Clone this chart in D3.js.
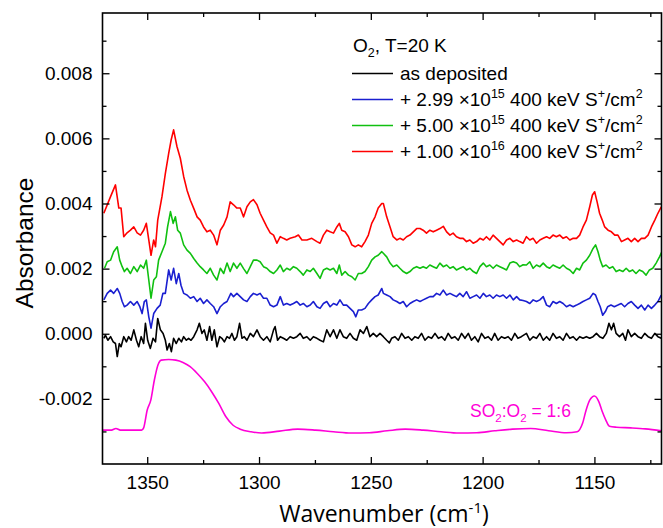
<!DOCTYPE html>
<html>
<head>
<meta charset="utf-8">
<script src="https://cdn.jsdelivr.net/npm/d3@7"></script>
<style>
  body { margin: 0; background: #fff; }
  text { font-family: "Liberation Sans", Arial, sans-serif; }
</style>
</head>
<body>
<div id="chart"></div>
<script>
// tick values
const xTicks = [1350, 1300, 1250, 1200, 1150];
const xMinor = [1325, 1275, 1225, 1175, 1125];
const yTicks = [-0.002, 0, 0.002, 0.004, 0.006, 0.008];
const yMinor = [-0.003, -0.001, 0.001, 0.003, 0.005, 0.007, 0.009];

// spectra: [wavenumber, absorbance]
const asDeposited = [
  [1369.4,-.00014],[1368.7,-.00004],[1367.6,-.00020],[1366.4,-.00009],[1365.2,-.00025],[1364.2,-.00030],[1363.4,-.00070],[1362.5,-.00030],[1361.7,-.00040],[1360.5,-.00009],[1359.3,-.00025],[1358.3,-.00009],[1357.2,-.00020],[1356.0,.00012],[1354.8,-.00020],[1353.8,-.00040],[1352.7,-.00009],[1351.6,-.00030],[1350.8,.00032],[1349.8,-.00020],[1348.6,-.00045],[1347.4,-.00014],[1346.3,-.00025],[1345.3,.00047],[1344.1,.00012],[1342.9,.00001],[1341.9,-.00020],[1341.1,-.00050],[1340.1,-.00030],[1339.2,-.00055],[1338.2,-.00014],[1337.0,-.00030],[1335.9,-.00014],[1334.7,-.00025],[1333.7,-.00009],[1332.5,-.00020],[1331.5,-.00014],[1330.4,-.00020],[1329.2,-.00009],[1327.7,.00012],[1326.7,.00032],[1325.5,.00001],[1324.5,.00012],[1323.3,-.00020],[1322.1,.00022],[1321.1,-.00020],[1320.0,.00012],[1318.8,-.00040],[1317.6,-.00009],[1316.6,-.00014],[1315.5,-.00025],[1314.3,-.00009],[1313.2,-.00014],[1312.1,.00001],[1311.0,-.00020],[1309.9,-.00009],[1308.7,.00032],[1307.6,-.00014],[1306.6,-.00009],[1305.4,-.00020],[1303.9,.00001],[1302.5,-.00009],[1300.9,.00012],[1299.5,-.00009],[1298.0,-.00020],[1296.5,-.00009],[1295.0,-.00025],[1293.5,.00012],[1292.8,.00022],[1291.7,-.00020],[1290.5,-.00009],[1289.1,-.00014],[1287.6,-.00020],[1286.1,-.00009],[1284.6,-.00014],[1283.1,-.00009],[1281.6,.00001],[1280.2,-.00014],[1278.6,-.00009],[1277.1,-.00020],[1275.7,-.00009],[1274.1,-.00014],[1272.7,-.00020],[1271.2,-.00025],[1269.7,.00012],[1268.2,-.00009],[1266.7,.00012],[1265.2,-.00014],[1263.8,.00012],[1262.3,-.00009],[1260.8,-.00014],[1259.3,.00001],[1257.8,-.00014],[1256.3,-.00020],[1254.8,.00012],[1253.3,.00001],[1251.8,.00022],[1250.4,-.00009],[1248.9,.00001],[1247.4,-.00009],[1245.9,.00001],[1244.4,-.00009],[1242.9,-.00020],[1241.7,-.00028],[1240.7,-.00014],[1239.2,-.00009],[1237.7,-.00020],[1236.2,.00001],[1234.7,-.00014],[1233.2,-.00009],[1231.7,-.00020],[1230.3,-.00009],[1228.8,-.00014],[1227.3,.00001],[1225.8,-.00020],[1224.3,-.00009],[1222.8,-.00014],[1221.3,.00001],[1219.8,-.00014],[1218.3,-.00009],[1216.9,-.00020],[1215.4,.00001],[1213.9,-.00014],[1212.4,-.00009],[1210.9,-.00020],[1209.4,.00001],[1207.9,-.00014],[1206.4,.00001],[1205.0,-.00020],[1203.5,-.00009],[1202.0,-.00025],[1200.5,.00001],[1199.0,-.00014],[1197.5,-.00009],[1196.0,-.00020],[1194.6,.00001],[1193.1,-.00020],[1191.6,-.00009],[1190.1,-.00014],[1188.6,-.00009],[1187.1,-.00020],[1185.6,.00001],[1184.2,-.00014],[1182.7,-.00009],[1180.4,.00001],[1178.9,-.00020],[1177.4,-.00009],[1175.9,-.00014],[1174.4,.00001],[1172.9,-.00020],[1171.4,-.00009],[1170.0,-.00020],[1168.5,.00001],[1167.0,-.00014],[1165.5,-.00009],[1164.0,-.00020],[1162.5,.00001],[1161.0,-.00014],[1159.5,-.00009],[1158.0,-.00020],[1156.6,-.00009],[1155.1,-.00014],[1153.6,-.00009],[1152.1,-.00014],[1150.6,-.00009],[1149.1,.00001],[1147.7,-.00009],[1146.2,-.00014],[1144.7,.00001],[1143.5,.00032],[1142.4,.00012],[1141.4,.00032],[1140.3,.00001],[1138.8,-.00009],[1137.3,.00001],[1136.1,-.00020],[1135.0,.00012],[1133.5,-.00009],[1132.0,.00001],[1130.5,-.00009],[1129.0,-.00014],[1127.5,.00001],[1126.0,-.00009],[1124.5,-.00014],[1123.0,.00001],[1121.6,-.00009],[1120.1,-.00014]
];

const dose299e15 = [
  [1369.4,.00104],[1367.9,.00124],[1366.4,.00134],[1365.0,.00124],[1363.4,.00139],[1362.3,.00124],[1361.2,.00099],[1360.2,.00083],[1359.0,.00088],[1357.5,.00099],[1356.0,.00088],[1354.5,.00099],[1353.3,.00083],[1352.3,.00062],[1351.3,.00099],[1350.4,.00104],[1349.3,.00052],[1348.3,.00017],[1347.1,.00062],[1345.6,.00078],[1344.2,.00088],[1343.0,.00124],[1341.9,.00124],[1340.4,.00196],[1339.3,.00165],[1338.2,.00201],[1337.0,.00154],[1335.9,.00185],[1334.9,.00149],[1333.7,.00124],[1332.2,.00119],[1330.7,.00109],[1329.2,.00114],[1327.7,.00099],[1326.3,.00109],[1324.8,.00093],[1323.3,.00104],[1321.8,.00093],[1320.3,.00083],[1318.8,.00062],[1317.3,.00083],[1315.8,.00093],[1314.3,.00099],[1312.6,.00124],[1311.4,.00114],[1309.9,.00124],[1308.4,.00114],[1306.9,.00104],[1305.4,.00099],[1303.9,.00114],[1302.5,.00124],[1300.9,.00119],[1299.5,.00124],[1298.0,.00109],[1296.5,.00109],[1295.0,.00088],[1293.5,.00083],[1292.0,.00088],[1290.5,.00114],[1289.1,.00088],[1287.6,.00093],[1286.1,.00088],[1284.6,.00093],[1283.1,.00099],[1281.6,.00088],[1280.2,.00093],[1278.6,.00083],[1277.1,.00088],[1275.7,.00099],[1274.1,.00083],[1272.7,.00078],[1271.2,.00093],[1269.7,.00099],[1268.2,.00083],[1266.7,.00093],[1265.2,.00088],[1263.8,.00104],[1262.3,.00088],[1260.8,.00088],[1259.3,.00078],[1257.8,.00068],[1256.7,.00052],[1255.6,.00073],[1254.1,.00073],[1252.6,.00078],[1251.1,.00093],[1249.6,.00104],[1248.1,.00114],[1246.7,.00119],[1245.1,.00139],[1244.4,.00124],[1242.9,.00119],[1241.4,.00114],[1240.0,.00104],[1238.4,.00099],[1237.0,.00093],[1235.5,.00099],[1234.0,.00083],[1232.5,.00093],[1231.0,.00099],[1229.5,.00104],[1228.0,.00099],[1226.6,.00104],[1225.1,.00109],[1223.6,.00114],[1222.1,.00114],[1220.6,.00124],[1219.1,.00119],[1217.6,.00134],[1216.1,.00119],[1214.6,.00124],[1213.2,.00119],[1211.7,.00114],[1210.2,.00124],[1208.7,.00114],[1207.2,.00129],[1205.7,.00109],[1204.2,.00114],[1202.7,.00119],[1201.2,.00109],[1199.7,.00124],[1198.3,.00114],[1196.8,.00119],[1195.3,.00109],[1193.8,.00119],[1192.3,.00114],[1190.8,.00119],[1189.3,.00109],[1187.8,.00119],[1186.3,.00104],[1184.8,.00114],[1183.4,.00104],[1181.9,.00102],[1180.4,.00099],[1178.9,.00093],[1177.4,.00104],[1175.9,.00099],[1174.4,.00104],[1172.9,.00114],[1171.4,.00088],[1170.0,.00083],[1168.5,.00099],[1167.0,.00093],[1165.5,.00099],[1164.0,.00093],[1162.5,.00083],[1161.0,.00088],[1159.5,.00083],[1158.0,.00088],[1156.6,.00093],[1155.1,.00099],[1153.6,.00104],[1152.1,.00109],[1150.6,.00124],[1149.5,.00119],[1148.4,.00099],[1147.4,.00083],[1146.3,.00057],[1145.1,.00068],[1144.1,.00083],[1142.6,.00088],[1141.1,.00083],[1139.5,.00088],[1138.0,.00093],[1136.5,.00083],[1135.0,.00093],[1133.5,.00099],[1132.0,.00088],[1130.5,.00078],[1129.0,.00088],[1127.5,.00073],[1126.0,.00088],[1124.5,.00078],[1123.0,.00088],[1121.6,.00099],[1120.1,.00119]
];

const dose500e15 = [
  [1369.1,.00201],[1367.9,.00221],[1366.4,.00226],[1365.0,.00252],[1363.4,.00267],[1362.3,.00226],[1361.2,.00206],[1360.2,.00191],[1359.0,.00201],[1357.5,.00185],[1356.0,.00206],[1354.5,.00191],[1353.0,.00211],[1351.6,.00201],[1350.4,.00226],[1349.3,.00165],[1348.3,.00109],[1347.1,.00165],[1345.9,.00175],[1344.9,.00226],[1343.4,.00252],[1341.9,.00278],[1340.9,.00328],[1339.6,.00375],[1338.4,.00339],[1337.4,.00359],[1336.4,.00318],[1335.2,.00309],[1333.7,.00273],[1332.2,.00257],[1330.7,.00247],[1329.2,.00231],[1327.7,.00217],[1326.3,.00206],[1324.8,.00196],[1323.3,.00185],[1321.8,.00201],[1320.3,.00180],[1318.8,.00165],[1317.3,.00201],[1315.8,.00185],[1314.3,.00217],[1312.9,.00191],[1311.4,.00217],[1309.9,.00201],[1308.4,.00217],[1306.9,.00200],[1305.4,.00185],[1303.9,.00206],[1302.5,.00226],[1300.9,.00226],[1299.5,.00221],[1298.0,.00206],[1296.5,.00201],[1295.0,.00191],[1293.5,.00185],[1292.0,.00196],[1290.5,.00211],[1289.1,.00191],[1287.6,.00201],[1286.1,.00196],[1284.6,.00206],[1283.1,.00201],[1281.6,.00191],[1280.2,.00180],[1278.6,.00196],[1277.1,.00191],[1275.7,.00201],[1274.1,.00185],[1272.7,.00170],[1271.2,.00196],[1269.7,.00201],[1268.2,.00196],[1266.7,.00201],[1265.2,.00185],[1264.1,.00211],[1263.0,.00180],[1261.5,.00191],[1260.0,.00180],[1258.5,.00175],[1257.0,.00165],[1255.6,.00185],[1254.1,.00185],[1252.6,.00191],[1251.1,.00206],[1249.6,.00226],[1248.1,.00236],[1246.7,.00241],[1245.1,.00252],[1244.4,.00247],[1242.9,.00236],[1241.4,.00217],[1240.0,.00206],[1238.4,.00211],[1237.0,.00201],[1235.5,.00191],[1234.0,.00185],[1232.5,.00191],[1231.0,.00201],[1229.5,.00206],[1228.0,.00201],[1226.6,.00206],[1225.1,.00201],[1223.6,.00211],[1222.1,.00206],[1220.6,.00201],[1219.1,.00217],[1217.6,.00206],[1216.1,.00211],[1214.6,.00201],[1213.2,.00206],[1211.7,.00196],[1210.2,.00201],[1208.7,.00206],[1207.2,.00196],[1205.7,.00201],[1204.2,.00191],[1202.7,.00185],[1201.2,.00206],[1199.7,.00217],[1198.3,.00206],[1196.8,.00211],[1195.3,.00201],[1193.8,.00211],[1192.3,.00206],[1190.8,.00201],[1189.3,.00196],[1187.8,.00217],[1186.3,.00221],[1184.8,.00217],[1183.4,.00206],[1181.9,.00212],[1180.4,.00211],[1178.9,.00221],[1177.4,.00201],[1175.9,.00211],[1174.4,.00206],[1172.9,.00217],[1171.4,.00206],[1170.0,.00201],[1168.5,.00211],[1167.0,.00206],[1165.5,.00201],[1164.0,.00211],[1162.5,.00201],[1161.0,.00196],[1159.5,.00185],[1158.0,.00201],[1156.6,.00196],[1155.1,.00217],[1153.6,.00226],[1152.1,.00241],[1150.6,.00262],[1149.5,.00273],[1148.4,.00252],[1147.4,.00226],[1146.3,.00206],[1144.8,.00211],[1143.3,.00201],[1141.8,.00206],[1140.3,.00191],[1138.8,.00196],[1137.3,.00191],[1135.8,.00201],[1134.3,.00191],[1132.9,.00196],[1131.4,.00185],[1129.9,.00196],[1128.4,.00191],[1126.9,.00180],[1125.4,.00196],[1123.9,.00201],[1122.4,.00217],[1120.9,.00236],[1119.8,.00252]
];

const dose100e16 = [
  [1369.4,.00370],[1366.4,.00421],[1364.2,.00457],[1362.7,.00386],[1361.7,.00386],[1360.5,.00298],[1359.0,.00310],[1357.5,.00318],[1356.0,.00328],[1354.5,.00310],[1353.0,.00303],[1351.6,.00318],[1350.4,.00339],[1349.3,.00288],[1348.3,.00241],[1347.1,.00288],[1346.3,.00267],[1345.3,.00349],[1343.4,.00421],[1341.9,.00492],[1340.4,.00554],[1339.3,.00595],[1338.2,.00626],[1336.7,.00575],[1335.2,.00539],[1333.7,.00483],[1332.2,.00441],[1330.7,.00410],[1329.2,.00385],[1327.7,.00359],[1326.3,.00349],[1324.8,.00328],[1323.3,.00313],[1321.8,.00318],[1320.3,.00303],[1318.8,.00273],[1317.3,.00318],[1315.8,.00334],[1314.3,.00359],[1312.9,.00405],[1311.4,.00396],[1309.9,.00386],[1308.4,.00386],[1306.9,.00359],[1305.4,.00390],[1303.9,.00405],[1302.5,.00412],[1300.9,.00396],[1299.5,.00370],[1298.0,.00349],[1296.5,.00328],[1295.0,.00310],[1293.5,.00303],[1292.0,.00278],[1290.5,.00298],[1289.1,.00293],[1287.6,.00288],[1286.1,.00293],[1283.8,.00298],[1282.4,.00303],[1280.8,.00288],[1278.6,.00288],[1276.4,.00293],[1274.1,.00283],[1272.7,.00278],[1271.2,.00303],[1269.7,.00318],[1268.2,.00313],[1266.7,.00309],[1265.2,.00328],[1264.1,.00339],[1263.0,.00318],[1261.5,.00313],[1260.0,.00298],[1258.5,.00273],[1257.0,.00267],[1255.6,.00273],[1254.1,.00267],[1252.6,.00283],[1251.1,.00303],[1249.6,.00339],[1248.1,.00359],[1246.7,.00386],[1245.1,.00400],[1244.4,.00400],[1242.9,.00359],[1241.4,.00328],[1240.0,.00298],[1238.4,.00288],[1237.0,.00293],[1235.5,.00288],[1234.0,.00298],[1232.5,.00303],[1231.0,.00313],[1229.5,.00323],[1228.0,.00323],[1226.6,.00318],[1225.1,.00309],[1223.6,.00318],[1222.1,.00313],[1220.6,.00318],[1219.1,.00323],[1217.6,.00330],[1216.1,.00313],[1214.6,.00303],[1213.2,.00309],[1211.7,.00298],[1210.2,.00293],[1208.7,.00293],[1207.2,.00283],[1205.7,.00288],[1204.2,.00278],[1202.7,.00283],[1201.2,.00293],[1199.7,.00288],[1198.3,.00298],[1196.8,.00288],[1195.3,.00303],[1193.8,.00293],[1192.3,.00283],[1190.8,.00273],[1189.3,.00288],[1187.8,.00293],[1186.3,.00283],[1184.8,.00288],[1183.4,.00283],[1181.9,.00278],[1180.4,.00298],[1178.9,.00288],[1177.4,.00293],[1175.9,.00278],[1174.4,.00288],[1172.9,.00293],[1171.4,.00298],[1170.0,.00293],[1168.5,.00303],[1167.0,.00298],[1165.5,.00303],[1164.0,.00293],[1162.5,.00298],[1161.0,.00288],[1159.5,.00293],[1158.0,.00293],[1156.6,.00303],[1155.1,.00328],[1153.6,.00349],[1152.1,.00390],[1150.9,.00426],[1149.9,.00436],[1148.8,.00405],[1147.7,.00370],[1146.5,.00349],[1145.4,.00328],[1143.9,.00318],[1142.4,.00313],[1140.9,.00303],[1139.5,.00303],[1137.9,.00283],[1136.5,.00288],[1135.0,.00293],[1133.5,.00283],[1132.0,.00293],[1130.5,.00283],[1129.0,.00293],[1127.5,.00293],[1126.0,.00303],[1124.5,.00328],[1123.0,.00349],[1121.6,.00370],[1120.1,.00390]
];

const so2Reference = [
  [1370.0,-.00296],[1366.0,-.00296],[1364.0,-.00291],[1362.0,-.00296],[1356.0,-.00296],[1352.5,-.00296],[1351.6,-.00289],[1350.0,-.00234],[1348.4,-.00204],[1346.8,-.00142],[1345.2,-.00096],[1343.7,-.00081],[1340.4,-.00079],[1337.2,-.00081],[1334.0,-.00088],[1330.8,-.00101],[1327.6,-.00122],[1324.4,-.00147],[1321.2,-.00178],[1318.0,-.00214],[1314.8,-.00255],[1311.6,-.00281],[1308.4,-.00293],[1303.6,-.00301],[1298.8,-.00305],[1290.8,-.00299],[1282.7,-.00293],[1274.7,-.00296],[1266.7,-.00301],[1258.7,-.00305],[1250.7,-.00304],[1242.7,-.00298],[1234.6,-.00293],[1226.6,-.00296],[1218.6,-.00301],[1210.6,-.00305],[1202.6,-.00304],[1194.6,-.00298],[1186.6,-.00293],[1178.5,-.00291],[1170.5,-.00298],[1162.5,-.00304],[1157.7,-.00301],[1155.3,-.00275],[1153.7,-.00234],[1152.1,-.00204],[1150.0,-.00191],[1148.0,-.00209],[1146.5,-.00239],[1144.9,-.00265],[1143.3,-.00284],[1140.1,-.00287],[1133.7,-.00289],[1127.2,-.00292],[1120.0,-.00298]
];

const series = [
  {values: asDeposited, color: "#000000"},
  {values: dose299e15, color: "#1a1fd0"},
  {values: dose500e15, color: "#10c010"},
  {values: dose100e16, color: "#ff0000"},
  {values: so2Reference, color: "#ff00d8", smooth: true}
];

// legend text pieces: [text, isSuperscript]
const legendRows = [
  {color: "#000000", parts: [["as deposited", 0]]},
  {color: "#1a1fd0", parts: [["+ 2.99 \u00d710", 0], ["15", 1], [" 400 keV S", 0], ["+", 1], ["/cm", 0], ["2", 1]]},
  {color: "#10c010", parts: [["+ 5.00 \u00d710", 0], ["15", 1], [" 400 keV S", 0], ["+", 1], ["/cm", 0], ["2", 1]]},
  {color: "#ff0000", parts: [["+ 1.00 \u00d710", 0], ["16", 1], [" 400 keV S", 0], ["+", 1], ["/cm", 0], ["2", 1]]}
];

const margin = {top: 13, right: 1.5, bottom: 64, left: 102.5},
    width = 663 - margin.left - margin.right,
    height = 528 - margin.top - margin.bottom;

const svg = d3.select("#chart")
  .append("svg")
    .attr("width", 663)
    .attr("height", 528)
  .append("g")
    .attr("transform", `translate(${margin.left},${margin.top})`);

const x = d3.scaleLinear().domain([1370, 1120]).range([0, width]);
const y = d3.scaleLinear().domain([-0.004, 0.00985]).range([height, 0]);

svg.append("clipPath").attr("id", "plot")
  .append("rect").attr("width", width).attr("height", height);

// spectra
const line = d3.line().x(d => x(d[0])).y(d => y(d[1]));
const smoothLine = d3.line().x(d => x(d[0])).y(d => y(d[1])).curve(d3.curveMonotoneX);

svg.append("g").attr("clip-path", "url(#plot)")
  .selectAll("path")
  .data(series)
  .join("path")
    .attr("fill", "none")
    .attr("stroke", d => d.color)
    .attr("stroke-width", 1.6)
    .attr("stroke-linejoin", "round")
    .attr("d", d => (d.smooth ? smoothLine : line)(d.values));

// axes, ticks pointing inward
function styleAxis(g) {
  g.select(".domain").remove();
  g.selectAll(".tick line").attr("stroke", "#000").attr("stroke-width", 1.3);
  g.selectAll(".tick text").attr("font-size", 19).attr("fill", "#000")
    .attr("font-family", "Liberation Sans, Arial, sans-serif");
}

svg.append("g")
  .attr("transform", `translate(0,${height})`)
  .call(d3.axisBottom(x).tickValues(xTicks).tickSize(-7).tickPadding(12).tickFormat(d3.format("d")))
  .call(styleAxis)
  .selectAll(".tick text").attr("dy", "0.71em");
svg.append("g")
  .attr("transform", `translate(0,${height})`)
  .call(d3.axisBottom(x).tickValues(xMinor).tickSize(-4).tickFormat(""))
  .call(styleAxis);
svg.append("g")
  .call(d3.axisTop(x).tickValues(xTicks).tickSize(-7).tickFormat(""))
  .call(styleAxis);
svg.append("g")
  .call(d3.axisTop(x).tickValues(xMinor).tickSize(-4).tickFormat(""))
  .call(styleAxis);

svg.append("g")
  .call(d3.axisLeft(y).tickValues(yTicks).tickSize(-7).tickPadding(10).tickFormat(d => d.toFixed(3)))
  .call(styleAxis);
svg.append("g")
  .call(d3.axisLeft(y).tickValues(yMinor).tickSize(-4).tickFormat(""))
  .call(styleAxis);
svg.append("g")
  .attr("transform", `translate(${width},0)`)
  .call(d3.axisRight(y).tickValues(yTicks).tickSize(-7).tickFormat(""))
  .call(styleAxis);
svg.append("g")
  .attr("transform", `translate(${width},0)`)
  .call(d3.axisRight(y).tickValues(yMinor).tickSize(-4).tickFormat(""))
  .call(styleAxis);

// frame
svg.append("rect")
  .attr("width", width)
  .attr("height", height)
  .attr("fill", "none")
  .attr("stroke", "#000")
  .attr("stroke-width", 1.6);

// axis titles
svg.append("text")
  .attr("transform", "rotate(-90)")
  .attr("x", -(243 - margin.top))
  .attr("y", 33 - margin.left)
  .attr("text-anchor", "middle")
  .attr("font-size", 24.5)
  .text("Absorbance");

const xTitle = svg.append("text")
  .attr("x", 384 - margin.left)
  .attr("y", 522 - margin.top)
  .attr("text-anchor", "middle")
  .attr("font-size", 23)
  .style("font-family", "'Open Sans', sans-serif");
xTitle.append("tspan").text("Wavenumber (cm");
xTitle.append("tspan").attr("font-size", 15).attr("dy", -9).text("-1");
xTitle.append("tspan").attr("dy", 9).text(")");

// legend
const legend = svg.append("g").attr("transform", `translate(${353 - margin.left},${52 - margin.top})`);
const title = legend.append("text").attr("font-size", 19);
title.append("tspan").text("O");
title.append("tspan").attr("font-size", 12.5).attr("dy", 5).text("2");
title.append("tspan").attr("dy", -5).text(", T=20 K");

legendRows.forEach((row, i) => {
  const ly = 21.5 + i * 26;
  legend.append("line")
    .attr("x1", -1).attr("x2", 40)
    .attr("y1", ly).attr("y2", ly)
    .attr("stroke", row.color).attr("stroke-width", 1.6);
  const t = legend.append("text").attr("x", 47).attr("y", ly + 6.8).attr("font-size", 19);
  let up = false;
  row.parts.forEach(([txt, sup]) => {
    const s = t.append("tspan").text(txt);
    if (sup && !up) { s.attr("font-size", 12.5).attr("dy", -8); up = true; }
    else if (!sup && up) { s.attr("dy", 8); up = false; }
  });
});

// reference label
const ref = svg.append("text")
  .attr("x", 470 - margin.left)
  .attr("y", 417 - margin.top)
  .attr("font-size", 17.5)
  .attr("fill", "#ff00d8");
ref.append("tspan").text("SO");
ref.append("tspan").attr("font-size", 11.5).attr("dy", 4.5).text("2");
ref.append("tspan").attr("dy", -4.5).text(":O");
ref.append("tspan").attr("font-size", 11.5).attr("dy", 4.5).text("2");
ref.append("tspan").attr("dy", -4.5).text(" = 1:6");
</script>
</body>
</html>
